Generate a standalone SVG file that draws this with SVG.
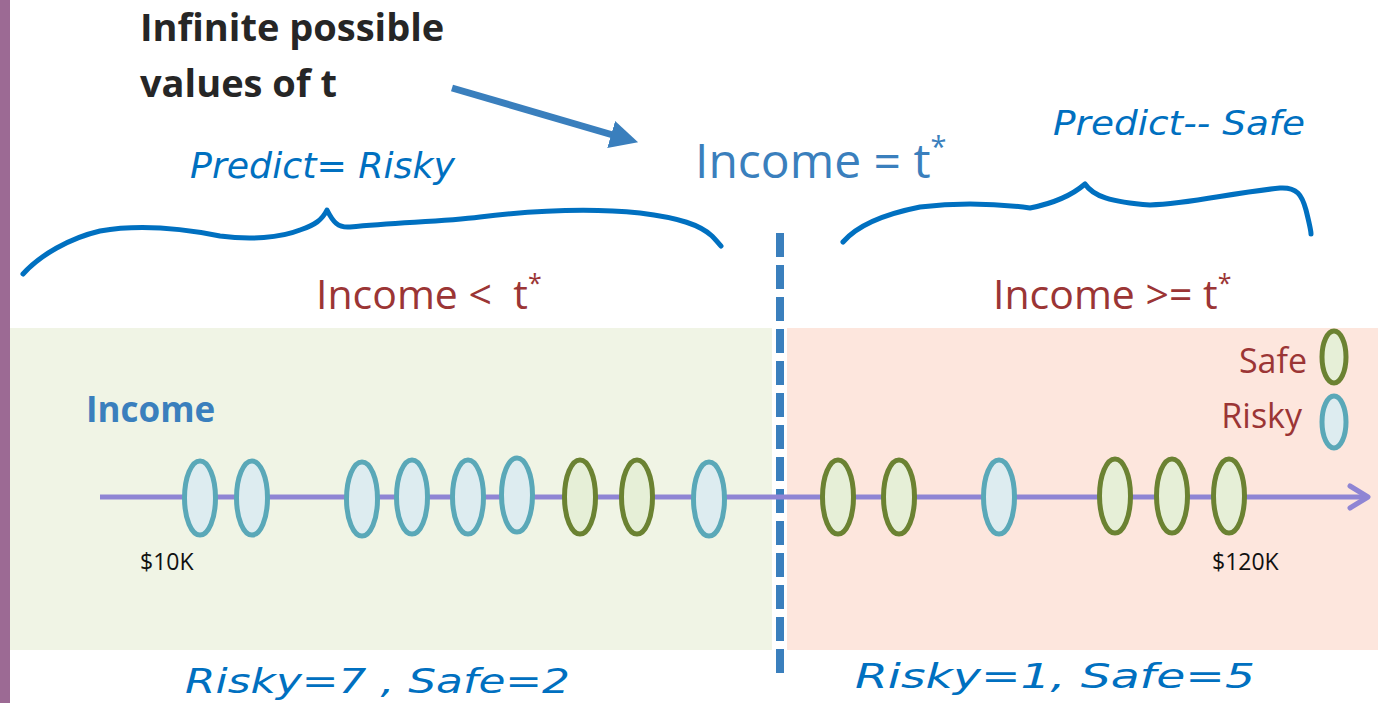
<svg xmlns="http://www.w3.org/2000/svg" width="1378" height="703" viewBox="0 0 1378 703">
<defs>
<style>
.risky{fill:#ddecf0;stroke:#5aa8b8;stroke-width:5}
.safe{fill:#e6efd7;stroke:#6b8232;stroke-width:5}
.ink{fill:none;stroke:#0070c0;stroke-width:5;stroke-linecap:round;stroke-linejoin:round}
.hand{font-family:"DejaVu Sans",sans-serif;font-style:italic;fill:#0070c0}
.red{font-family:"Open Sans",sans-serif;fill:#9b3535}
.tick{font-family:"Open Sans",sans-serif;font-size:23px;fill:#111}
</style>
<marker id="ah" viewBox="0 0 10 10" refX="7" refY="5" markerWidth="4" markerHeight="4" orient="auto" markerUnits="strokeWidth">
<path d="M0,0 L10,5 L0,10 Z" fill="#3a7fbd"/>
</marker>
</defs>
<rect width="1378" height="703" fill="#ffffff"/>
<rect x="0" y="0" width="10" height="703" fill="#9c6a94"/>
<g id="panel-left"><rect x="10" y="328" width="762" height="322" fill="#f0f4e5"/></g>
<g id="panel-right"><rect x="787" y="328" width="591" height="322" fill="#fde6dd"/></g>

<g id="title">
<text x="140" y="41" font-family="Open Sans,sans-serif" font-weight="bold" font-size="38" fill="#262626">Infinite possible</text>
<text x="140" y="97" font-family="Open Sans,sans-serif" font-weight="bold" font-size="38" fill="#262626">values of t</text>
</g>
<g id="threshold-label">
<text x="695" y="178" font-family="Open Sans,sans-serif" font-size="48" fill="#3a7fbd">Income = t<tspan font-size="29" dy="-21">*</tspan></text>
</g>
<g id="label-lt"><text x="316" y="309" class="red" font-size="41">Income &lt;&#160; t<tspan font-size="25" dy="-17">*</tspan></text></g>
<g id="label-ge"><text x="993" y="309" class="red" font-size="41">Income &gt;= t<tspan font-size="25" dy="-17">*</tspan></text></g>
<g id="axis-label"><text x="86" y="422" font-family="Open Sans,sans-serif" font-weight="bold" font-size="35" fill="#3a7fbd">Income</text></g>

<g id="connectors">
<line x1="452" y1="88" x2="630" y2="140" stroke="#3a7fbd" stroke-width="7" marker-end="url(#ah)"/>
<line x1="780" y1="233" x2="780" y2="673" stroke="#3a7fbd" stroke-width="8" stroke-dasharray="24 8"/>
<line x1="100" y1="497" x2="1368" y2="497" stroke="#8f85d4" stroke-width="5"/>
<path d="M1350,486 L1368,497 L1350,508" fill="none" stroke="#8f85d4" stroke-width="5" stroke-linecap="round" stroke-linejoin="round"/>
</g>

<g id="points">
<ellipse class="risky" cx="200" cy="498" rx="15.5" ry="37"/>
<ellipse class="risky" cx="252" cy="498" rx="15.5" ry="37"/>
<ellipse class="risky" cx="362" cy="499" rx="15.5" ry="37"/>
<ellipse class="risky" cx="412" cy="497" rx="15.5" ry="37"/>
<ellipse class="risky" cx="468" cy="497" rx="15.5" ry="37"/>
<ellipse class="risky" cx="517" cy="495" rx="15.5" ry="37"/>
<ellipse class="safe" cx="580" cy="497" rx="15.5" ry="37"/>
<ellipse class="safe" cx="637" cy="497" rx="15.5" ry="37"/>
<ellipse class="risky" cx="709" cy="499" rx="15.5" ry="37"/>
<ellipse class="safe" cx="838" cy="497" rx="15.5" ry="37"/>
<ellipse class="safe" cx="899" cy="497" rx="15.5" ry="37"/>
<ellipse class="risky" cx="999" cy="497" rx="15.5" ry="37"/>
<ellipse class="safe" cx="1115" cy="496" rx="15.5" ry="37"/>
<ellipse class="safe" cx="1172" cy="496" rx="15.5" ry="37"/>
<ellipse class="safe" cx="1229" cy="496" rx="15.5" ry="37"/>
</g>
<g id="ticks">
<text x="140" y="570" class="tick">$10K</text>
<text x="1212" y="570" class="tick">$120K</text>
</g>
<g id="legend">
<text x="1307" y="373" class="red" font-size="34" text-anchor="end">Safe</text>
<ellipse class="safe" cx="1334" cy="357" rx="12" ry="26"/>
<text x="1302" y="428" class="red" font-size="34" text-anchor="end">Risky</text>
<ellipse class="risky" cx="1334" cy="422" rx="12" ry="26"/>
</g>

<g id="annotations">
<path class="ink" d="M23,274 C40,255 70,238 100,231 C140,224 180,228 220,236 C250,240 280,238 300,230 C315,225 322,220 327,210 C333,222 338,228 350,227 C400,222 440,222 480,217 C530,211 590,208 640,213 C680,218 700,225 712,236 C716,240 718,243 721,246"/>
<path class="ink" d="M843,242 C855,228 880,215 920,207 C960,202 1000,204 1030,208 C1050,204 1070,197 1085,184 C1093,196 1110,202 1150,205 C1190,204 1230,193 1280,188 C1297,187 1302,195 1306,210 C1309,222 1311,230 1311,234"/>
<text x="190" y="178" class="hand" font-size="36" textLength="265" lengthAdjust="spacingAndGlyphs">Predict= Risky</text>
<text x="1053" y="135" class="hand" font-size="34" textLength="252" lengthAdjust="spacingAndGlyphs">Predict-- Safe</text>
<text x="185" y="693" class="hand" font-size="34" textLength="385" lengthAdjust="spacingAndGlyphs">Risky=7  ,  Safe=2</text>
<text x="855" y="688" class="hand" font-size="34" textLength="400" lengthAdjust="spacingAndGlyphs">Risky=1,   Safe=5</text>
</g>
</svg>
